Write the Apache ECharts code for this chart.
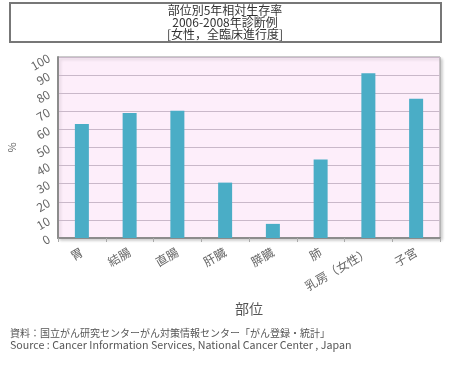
<!DOCTYPE html>
<html><head><meta charset="utf-8">
<script src="https://cdn.jsdelivr.net/npm/echarts@6/dist/echarts.min.js"></script>
<style>html,body{margin:0;padding:0;background:#fff}#c{width:450px;height:370px}</style>
</head><body><div id="c"></div>
<script>
const titleLines = ['部位別5年相対生存率', '2006-2008年診断例', '[女性，全臨床進行度]'];
const categories = ['胃', '結腸', '直腸', '肝臓', '膵臓', '肺', '乳房（女性）', '子宮'];
const values = [63, 69, 70.3, 30.6, 7.8, 43.4, 91, 77];
const yTicks = {min: 0, max: 100, interval: 10};
const footer = ['資料：国立がん研究センターがん対策情報センター「がん登録・統計」', 'Source : Cancer Information Services, National Cancer Center , Japan'];
const FONT = '"Noto Sans CJK JP", sans-serif';
const chart = echarts.init(document.getElementById('c'));
chart.setOption({
  animation: false,
  textStyle: {fontFamily: FONT},
  grid: {left: 58, right: 10, top: 57, bottom: 132, containLabel: false, outerBoundsMode: 'none',
    show: true, backgroundColor: '#fdeefa', borderColor: '#9a9a9a', borderWidth: 1,
    shadowColor: 'rgba(0,0,0,0.2)', shadowBlur: 3, shadowOffsetX: 2, shadowOffsetY: 2},
  graphic: [
    {type: 'rect', shape: {x: 10, y: 3, width: 431, height: 39}, style: {fill: '#fff', stroke: '#777', lineWidth: 2}},
    {type: 'text', x: 225, y: 10, style: {text: titleLines[0], align: 'center', verticalAlign: 'middle', font: '12px ' + FONT, fill: '#333'}},
    {type: 'text', x: 225, y: 22, style: {text: titleLines[1], align: 'center', verticalAlign: 'middle', font: '12px ' + FONT, fill: '#333'}},
    {type: 'text', x: 225, y: 34, style: {text: titleLines[2], align: 'center', verticalAlign: 'middle', font: '12px ' + FONT, fill: '#333'}},
    {type: 'text', x: 10, y: 333, style: {text: footer[0], align: 'left', verticalAlign: 'middle', font: '10px ' + FONT, fill: '#555'}},
    {type: 'text', x: 10, y: 345, style: {text: footer[1], align: 'left', verticalAlign: 'middle', font: '10.7px ' + FONT, fill: '#555'}}
  ],
  xAxis: {
    type: 'category', data: categories,
    name: '部位', nameLocation: 'middle', nameGap: 64, nameMoveOverlap: false,
    nameTextStyle: {fontSize: 14, color: '#555'},
    axisLine: {lineStyle: {color: '#8c8c8c', width: 2}},
    axisTick: {show: true, lineStyle: {color: '#aaa'}, length: 4},
    axisLabel: {rotate: 30, fontSize: 12, color: '#666', margin: 13}
  },
  yAxis: {
    type: 'value', min: yTicks.min, max: yTicks.max, interval: yTicks.interval,
    name: '%', nameLocation: 'middle', nameGap: 41, nameRotate: 90, nameMoveOverlap: false,
    nameTextStyle: {fontSize: 11, color: '#666'},
    axisLine: {show: true, lineStyle: {color: '#8c8c8c', width: 2}},
    axisTick: {show: false},
    axisLabel: {rotate: 30, fontSize: 12, color: '#666', margin: 9},
    splitLine: {lineStyle: {color: '#c9b8c9'}}
  },
  series: [{type: 'bar', data: values, barWidth: 14, itemStyle: {color: '#4aadc6'}}]
});
</script></body></html>
